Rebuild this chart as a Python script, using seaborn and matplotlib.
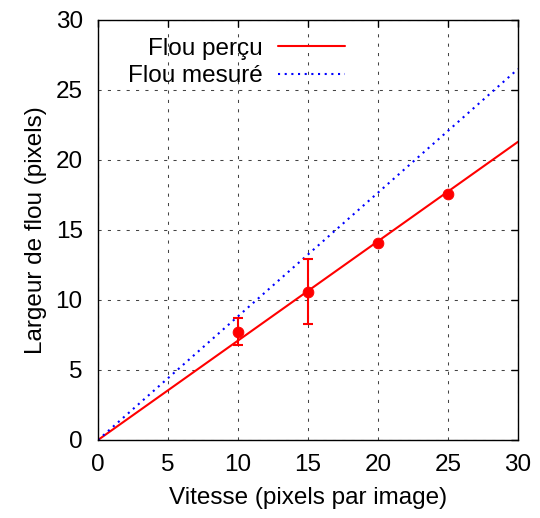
import numpy as np
import pandas as pd
import matplotlib
matplotlib.use('Agg')
import matplotlib.pyplot as plt
import seaborn as sns

# Données
vitesse = [10, 15, 20, 25]
flou_percu = [7.7, 10.6, 14.1, 17.6]
err_bas = [6.8, 8.3, 14.1, 17.6]
err_haut = [8.7, 12.9, 14.1, 17.6]

ligne_x = [0, 30]
ligne_percu = [0, 21.3]
ligne_mesure = [0, 26.5]

sns.set_style('white')
plt.rcParams['font.family'] = ['Liberation Sans', 'DejaVu Sans']
plt.rcParams['font.size'] = 17.5
plt.rcParams['text.color'] = 'black'
plt.rcParams['axes.labelcolor'] = 'black'
plt.rcParams['xtick.color'] = 'black'
plt.rcParams['ytick.color'] = 'black'

fig = plt.figure(figsize=(5.4, 5.18), dpi=100)
ax = fig.add_axes([98 / 540, 1 - 440 / 518, 420 / 540, 420 / 518])

df_lignes = pd.DataFrame({'x': ligne_x, 'percu': ligne_percu, 'mesure': ligne_mesure})
sns.lineplot(data=df_lignes, x='x', y='percu', color='red', lw=1.5, ax=ax, label='Flou perçu')
sns.lineplot(data=df_lignes, x='x', y='mesure', color='blue', lw=1.5, ax=ax,
             label='Flou mesuré', linestyle=(0, (1, 2.2)))

# Points et barres d'erreur
df_pts = pd.DataFrame({'v': vitesse, 'f': flou_percu})
ax.vlines(vitesse, err_bas, err_haut, color='red', lw=1.5)
for x, lo, hi in zip(vitesse, err_bas, err_haut):
    if hi > lo:
        ax.plot([x, x], [lo, hi], color='red', lw=0, marker='_', ms=7, mew=1.5)
sns.scatterplot(data=df_pts, x='v', y='f', color='red', s=60, edgecolor='red', ax=ax, zorder=5)

ax.set_xlim(0, 30)
ax.set_ylim(0, 30)
ax.set_xticks(range(0, 31, 5))
ax.set_yticks(range(0, 31, 5))
ax.grid(True, color='#444444', linestyle=(0, (3, 6)), lw=0.75)
ax.tick_params(direction='in', top=True, right=True, length=5, width=1, labelsize=17.5)
ax.tick_params(axis='y', pad=11)
ax.tick_params(axis='x', pad=10)
for s in ax.spines.values():
    s.set_color('black')
    s.set_linewidth(1)

ax.set_xlabel('Vitesse (pixels par image)', fontsize=17.5, labelpad=8)
ax.set_ylabel('Largeur de flou (pixels)', fontsize=17.5, labelpad=6)

leg = ax.legend(loc='upper left', bbox_to_anchor=(0.072, 0.958), markerfirst=False,
                frameon=False, fontsize=17.5, handlelength=2.75, handletextpad=0.62,
                labelspacing=0.22, borderpad=0, borderaxespad=0)
for t in leg.get_texts():
    t.set_ha('right')

fig.savefig('out.png', dpi=100)
